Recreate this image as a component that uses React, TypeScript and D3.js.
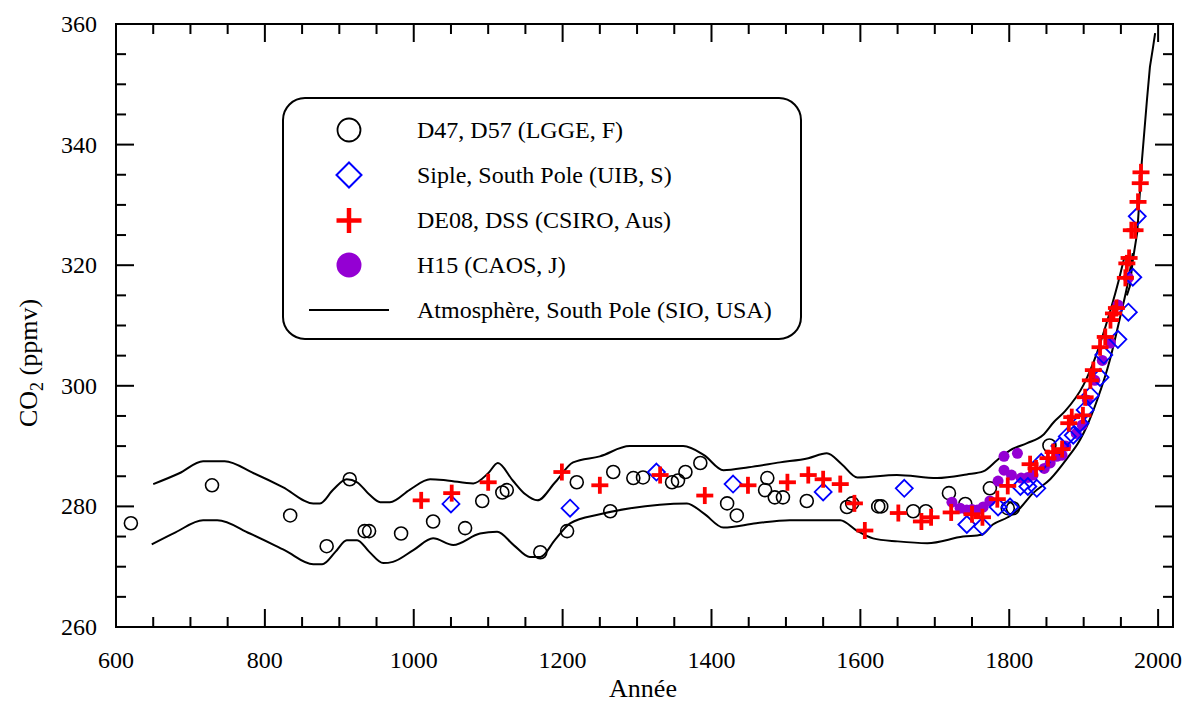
import React from "react";
import * as d3 from "d3";

const W = 1189;
const H = 702;

// Axis definitions
const xDomain: [number, number] = [600, 2020];
const yDomain: [number, number] = [260, 360];
const xMajorTicks = [600, 800, 1000, 1200, 1400, 1600, 1800, 2000];
const yMajorTicks = [260, 280, 300, 320, 340, 360];

// D47, D57 (LGGE, F) — open circles [year, ppmv]
const lggeData: [number, number][] = [
  [620, 277.2], [729, 283.5], [834, 278.5], [883, 273.4], [914, 284.5], [934, 275.9],
  [940, 275.9], [983, 275.5], [1026, 277.5], [1069, 276.4], [1092, 280.9], [1119, 282.3],
  [1125, 282.7], [1170, 272.4], [1206, 275.9], [1219, 284.0], [1264, 279.2], [1268, 285.7],
  [1295, 284.7], [1308, 284.8], [1347, 284.0], [1355, 284.3], [1365, 285.7], [1385, 287.2],
  [1421, 280.5], [1434, 278.5], [1475, 284.7], [1472, 282.7], [1485, 281.5], [1496, 281.5],
  [1528, 280.9], [1582, 279.9], [1589, 280.5], [1624, 280.0], [1628, 280.0], [1671, 279.2],
  [1688, 279.2], [1719, 282.2], [1741, 280.4], [1774, 283.0], [1798, 279.7], [1805, 279.7],
  [1854, 290.1],
];

// Siple, South Pole (UIB, S) — open diamonds
const uibData: [number, number][] = [
  [1050, 280.4], [1210, 279.7], [1326, 285.7], [1429, 283.7], [1550, 282.4], [1659, 283.0],
  [1743, 277.0], [1764, 276.7], [1785, 279.9], [1801, 279.9], [1815, 283.3], [1825, 283.3],
  [1837, 283.0], [1843, 287.3], [1868, 290.0], [1878, 291.6], [1886, 291.8], [1895, 293.8],
  [1902, 296.0], [1909, 298.4], [1922, 301.4], [1927, 305.1], [1946, 307.7], [1960, 312.2],
  [1966, 318.0], [1972, 328.1],
];

// DE08, DSS (CSIRO, Aus) — red plus
const csiroData: [number, number][] = [
  [1010, 281.0], [1051, 282.2], [1100, 284.0], [1199, 285.7], [1250, 283.5], [1331, 285.2],
  [1391, 281.8], [1449, 283.5], [1502, 284.0], [1530, 285.2], [1550, 284.5], [1573, 283.7],
  [1592, 280.5], [1606, 276.0], [1651, 278.9], [1682, 277.5], [1695, 278.2], [1722, 279.0],
  [1750, 278.7], [1764, 278.2], [1784, 281.2], [1798, 283.4], [1828, 287.0], [1836, 286.3],
  [1852, 288.0], [1859, 289.0], [1871, 289.5], [1880, 293.8], [1884, 294.8], [1899, 295.1],
  [1902, 298.1], [1909, 300.9], [1913, 302.6], [1922, 306.4], [1929, 308.1], [1936, 310.9],
  [1940, 312.0], [1944, 312.9], [1956, 317.9], [1958, 320.3], [1961, 321.2], [1964, 325.8],
  [1969, 325.8], [1973, 330.5], [1976, 333.6], [1977, 335.4],
];

// H15 (CAOS, J) — purple filled dots
const caosData: [number, number][] = [
  [1723, 280.7], [1734, 279.7], [1743, 279.4], [1750, 279.5], [1757, 279.4], [1765, 279.9],
  [1774, 280.9], [1785, 284.2], [1793, 286.0], [1793, 288.3], [1803, 285.2], [1811, 288.8],
  [1816, 284.7], [1825, 284.8], [1832, 285.2], [1847, 286.3], [1855, 287.2], [1864, 288.3],
  [1871, 288.5], [1876, 290.0], [1890, 292.1], [1898, 293.5], [1905, 297.6], [1915, 300.9],
  [1925, 304.2], [1936, 307.1], [1946, 313.4], [1960, 317.9],
];

// Envelope (upper / lower) and atmospheric record
const upperEnvelope: [number, number][] = [
  [650, 283.7], [685, 285.5], [717, 287.5], [746, 287.5], [785, 285.5], [824, 283.2],
  [865, 280.5], [874, 280.5], [892, 282.8], [910, 284.5], [924, 284.0], [940, 282.0],
  [955, 280.7], [968, 280.7], [995, 282.8], [1022, 284.5], [1045, 284.3], [1080, 283.8],
  [1100, 285.5], [1113, 287.2], [1133, 284.3], [1150, 282.0], [1166, 281.0], [1190, 284.0],
  [1214, 287.3], [1250, 288.3], [1290, 290.0], [1362, 290.0], [1390, 288.5], [1416, 286.0],
  [1450, 286.5], [1492, 287.3], [1530, 288.0], [1555, 288.8], [1575, 287.0], [1596, 284.8],
  [1649, 285.2], [1703, 284.7], [1743, 285.3], [1765, 285.8], [1784, 287.7], [1801, 289.3],
  [1824, 290.5], [1845, 291.8], [1860, 294.0], [1875, 295.8], [1900, 300.2], [1918, 305.5],
  [1931, 310.5], [1945, 316.5], [1955, 321.5],
];
const lowerEnvelope: [number, number][] = [
  [648, 273.7], [680, 275.7], [717, 277.7], [736, 277.7], [780, 275.5], [827, 272.7],
  [865, 270.4], [877, 270.4], [895, 272.5], [910, 274.4], [924, 274.4], [940, 272.5],
  [959, 270.6], [972, 270.8], [1000, 272.8], [1026, 274.7], [1053, 273.6], [1089, 275.5],
  [1112, 275.8], [1135, 273.5], [1156, 271.6], [1170, 271.6], [1190, 274.5], [1210, 277.2],
  [1250, 278.7], [1291, 279.7], [1367, 280.5], [1390, 278.8], [1416, 276.5], [1460, 277.2],
  [1505, 277.7], [1573, 277.7], [1595, 276.0], [1617, 274.7], [1650, 274.2], [1690, 273.9],
  [1738, 275.0], [1763, 275.3], [1778, 277.0], [1798, 278.2], [1812, 279.4], [1832, 282.2],
  [1855, 284.5], [1878, 288.0], [1895, 291.0], [1905, 293.5], [1918, 297.6], [1935, 304.2],
  [1949, 311.4], [1960, 317.5], [1966, 322.0],
];
const atmosphereData: [number, number][] = [
  [1958, 315.0], [1962, 316.5], [1966, 320.8], [1972, 325.5], [1976, 333.0], [1978, 337.0],
  [1985, 347.4], [1989, 352.9], [1993, 356.0], [1996, 358.5],
];

const legendLabels = [
  "D47, D57 (LGGE, F)",
  "Siple, South Pole (UIB, S)",
  "DE08, DSS (CSIRO, Aus)",
  "H15 (CAOS, J)",
  "Atmosphère, South Pole (SIO, USA)",
];

const FONT = "'Liberation Serif', 'Times New Roman', serif";
const RED = "#ff0000";
const BLUE = "#0000ff";
const PURPLE = "#9400d3";

const left = 116;
const right = 1173;
const top = 24;
const bottom = 627;

export default function App() {
  const x = d3.scaleLinear().domain(xDomain).range([left, right]);
  const y = d3.scaleLinear().domain(yDomain).range([bottom, top]);
  const line = d3
    .line<[number, number]>()
    .x((d) => x(d[0]))
    .y((d) => y(d[1]))
    .curve(d3.curveMonotoneX);
  const lineAtm = d3
    .line<[number, number]>()
    .x((d) => x(d[0]))
    .y((d) => y(d[1]))
    .curve(d3.curveLinear);

  const xMinor = d3.range(600, 2001, 50).filter((v) => !xMajorTicks.includes(v));
  const yMinor = d3.range(260, 361, 5).filter((v) => !yMajorTicks.includes(v));
  const majLen = 18;
  const minLen = 10;

  const plus = (cx: number, cy: number, s: number, w: number, key?: any) => (
    <g key={key} stroke={RED} strokeWidth={w}>
      <line x1={cx - s} x2={cx + s} y1={cy} y2={cy} />
      <line x1={cx} x2={cx} y1={cy - s} y2={cy + s} />
    </g>
  );
  const diamond = (cx: number, cy: number, s: number, w: number, key?: any) => (
    <path
      key={key}
      d={`M${cx},${cy - s}L${cx + s},${cy}L${cx},${cy + s}L${cx - s},${cy}Z`}
      fill="none"
      stroke={BLUE}
      strokeWidth={w}
    />
  );

  const legX = 349;
  const legRows = [130, 175, 220.5, 265, 310];

  return (
    <svg
      width={W}
      height={H}
      style={{ position: "absolute", left: 0, top: 0, background: "#fff" }}
      fontFamily={FONT}
    >
      <rect x={0} y={0} width={W} height={H} fill="#fff" />
      {/* envelope + atmosphere */}
      <path d={line(upperEnvelope) || ""} fill="none" stroke="#000" strokeWidth={2} />
      <path d={line(lowerEnvelope) || ""} fill="none" stroke="#000" strokeWidth={2} />
      <path d={lineAtm(atmosphereData) || ""} fill="none" stroke="#000" strokeWidth={2} />

      {/* data */}
      {lggeData.map((d, i) => (
        <circle key={"c" + i} cx={x(d[0])} cy={y(d[1])} r={6.5} fill="none" stroke="#000" strokeWidth={1.6} />
      ))}
      {caosData.map((d, i) => (
        <circle key={"p" + i} cx={x(d[0])} cy={y(d[1])} r={5.5} fill={PURPLE} />
      ))}
      {uibData.map((d, i) => diamond(x(d[0]), y(d[1]), 8.5, 1.8, "d" + i))}
      {csiroData.map((d, i) => plus(x(d[0]), y(d[1]), 8.5, 3.8, "r" + i))}

      {/* frame */}
      <rect x={left} y={top} width={right - left} height={bottom - top} fill="none" stroke="#000" strokeWidth={2} />
      {/* x ticks */}
      {xMajorTicks.map((v) => (
        <g key={"xm" + v} stroke="#000" strokeWidth={2}>
          <line x1={x(v)} x2={x(v)} y1={bottom} y2={bottom - majLen} />
          <line x1={x(v)} x2={x(v)} y1={top} y2={top + majLen} />
        </g>
      ))}
      {xMinor.map((v) => (
        <g key={"xn" + v} stroke="#000" strokeWidth={2}>
          <line x1={x(v)} x2={x(v)} y1={bottom} y2={bottom - minLen} />
          <line x1={x(v)} x2={x(v)} y1={top} y2={top + minLen} />
        </g>
      ))}
      {yMajorTicks.map((v) => (
        <g key={"ym" + v} stroke="#000" strokeWidth={2}>
          <line x1={left} x2={left + majLen} y1={y(v)} y2={y(v)} />
          <line x1={right} x2={right - majLen} y1={y(v)} y2={y(v)} />
        </g>
      ))}
      {yMinor.map((v) => (
        <g key={"yn" + v} stroke="#000" strokeWidth={2}>
          <line x1={left} x2={left + minLen} y1={y(v)} y2={y(v)} />
          <line x1={right} x2={right - minLen} y1={y(v)} y2={y(v)} />
        </g>
      ))}
      {/* tick labels */}
      {xMajorTicks.map((v) => (
        <text key={"xl" + v} x={x(v)} y={668} fontSize={24} textAnchor="middle">
          {v}
        </text>
      ))}
      {yMajorTicks.map((v) => (
        <text key={"yl" + v} x={97} y={y(v)} dy="0.33em" fontSize={24} textAnchor="end">
          {v}
        </text>
      ))}
      {/* axis titles */}
      <text x={643} y={697} fontSize={26} textAnchor="middle">
        Année
      </text>
      <text transform={`translate(37,${363}) rotate(-90)`} fontSize={26} textAnchor="middle">
        CO<tspan fontSize={18} dy={6}>2</tspan>
        <tspan dy={-6}> (ppmv)</tspan>
      </text>

      {/* legend */}
      <rect x={283} y={98} width={518} height={241} rx={22} ry={22} fill="#fff" stroke="#000" strokeWidth={2} />
      <circle cx={legX} cy={legRows[0]} r={11.5} fill="none" stroke="#000" strokeWidth={1.8} />
      {diamond(legX, legRows[1], 12.5, 2, "ld")}
      {plus(legX, legRows[2], 12.5, 4.5, "lp")}
      <circle cx={legX} cy={legRows[3]} r={12.5} fill={PURPLE} />
      <line x1={309} x2={389} y1={legRows[4]} y2={legRows[4]} stroke="#000" strokeWidth={2} />
      {legendLabels.map((t, i) => (
        <text key={"lt" + i} x={417} y={legRows[i]} dy="0.33em" fontSize={24}>
          {t}
        </text>
      ))}
    </svg>
  );
}
